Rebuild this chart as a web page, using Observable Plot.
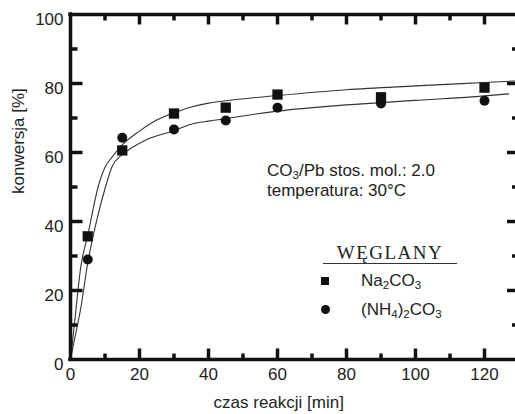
<!DOCTYPE html>
<html>
<head>
<meta charset="utf-8">
<script src="https://cdn.jsdelivr.net/npm/d3@7"></script>
<script src="https://cdn.jsdelivr.net/npm/@observablehq/plot@0.6"></script>
<style>
  html, body { margin: 0; padding: 0; background: #fff; overflow: hidden; }
  #wrap { position: relative; width: 515px; height: 414px; overflow: hidden; font-family: "Liberation Sans", Arial, sans-serif; color: #222; }
  #chart { position: absolute; left: 0; top: 0; width: 522px; }
  #chart svg { max-width: none !important; }
  .note { position: absolute; left: 267px; font-size: 17px; line-height: 17px; white-space: nowrap; }
  .legend { position: absolute; left: 318px; top: 243px; }
  .lg-title { position: absolute; left: 5px; top: 0; width: 134px; font-family: "Liberation Serif", "Times New Roman", serif; font-size: 19px; letter-spacing: 1.5px; text-align: center; line-height: 20px; }
  .lg-rule { position: absolute; left: 5px; top: 20px; width: 134px; height: 0; border-top: 1.2px solid #333; }
  .lg-item { position: absolute; left: 0; font-size: 17px; line-height: 18px; white-space: nowrap; }
  .lg-item .sw { position: absolute; left: 3px; top: 5px; width: 8px; height: 8px; background: #111; }
  .lg-item .sw.c { border-radius: 50%; width: 9px; height: 9px; top: 4px; }
  .lg-item .tx { position: absolute; left: 43px; top: 0; }
  sub { font-size: 0.68em; vertical-align: -0.25em; line-height: 0; }
</style>
</head>
<body>
<div id="wrap">
  <div id="chart"></div>
  <div class="note" style="top:162px">CO<sub>3</sub>/Pb stos. mol.: 2.0</div>
  <div class="note" style="top:182px">temperatura: 30°C</div>
  <div class="legend">
    <div class="lg-title">WĘGLANY</div>
    <div class="lg-rule"></div>
    <div class="lg-item" style="top:29px"><span class="sw"></span><span class="tx">Na<sub>2</sub>CO<sub>3</sub></span></div>
    <div class="lg-item" style="top:58px"><span class="sw c"></span><span class="tx">(NH<sub>4</sub>)<sub>2</sub>CO<sub>3</sub></span></div>
  </div>
</div>
<script>
// measured points
const times = [5, 15, 30, 45, 60, 90, 120];
const na2co3 = [35.7, 60.6, 71.3, 73.0, 76.8, 76.0, 78.8];
const nh4co3 = [29.0, 64.3, 66.7, 69.3, 73.0, 74.2, 75.0];

// fitted curves
const fitTimesNa = [0, 1, 3, 5, 8, 10, 12, 15, 20, 25, 30, 35, 40, 45, 60, 80, 100, 120, 130];
const fitNa = [0, 9, 27, 36, 50, 55.7, 58.6, 62.2, 66.2, 69.4, 71.5, 73.2, 74.3, 75.0, 76.5, 78.2, 79.3, 80.3, 80.8];
const fitTimesNH = [0, 1, 3, 5, 8, 10, 12, 15, 18, 22, 30, 35, 40, 45, 50, 60, 80, 100, 120, 127];
const fitNH = [0, 5, 15, 28, 42, 49.5, 55.8, 59.4, 61.5, 63.7, 66.3, 68.2, 69.1, 69.8, 70.6, 72.0, 73.8, 75.1, 76.4, 77.0];

const xLabel = "czas reakcji [min]";
const yLabel = "konwersja [%]";
const xTickLabels = [0, 20, 40, 60, 80, 100, 120];
const yTickLabels = [0, 20, 40, 60, 80, 100];
const xMajor = [20, 40, 60, 80, 100, 120];
const xMinor = [10, 30, 50, 70, 90, 110];
const yMajor = [20, 40, 60, 80];
const yMinor = [10, 30, 50, 70, 90];
const xDomain = [0, 130];
const yDomain = [0, 100];

const pts = (xs, ys) => xs.map((x, i) => ({x, y: ys[i]}));
const naPts = pts(times, na2co3);
const nhPts = pts(times, nh4co3);
const naFit = pts(fitTimesNa, fitNa);
const nhFit = pts(fitTimesNH, fitNH);

const W = 522, H = 414, ML = 70, MR = 3.5, MT = 14, MB = 55;
const FW = W - ML - MR, FH = H - MT - MB;
// pixel length -> data units (for inward tick marks)
const kx = (xDomain[1] - xDomain[0]) / FW;
const ky = (yDomain[1] - yDomain[0]) / FH;
const ink = "#111";
const hTicks = (vals, x0, lenPx) => Plot.link(vals, {x1: () => x0, x2: () => x0 + lenPx * kx, y1: d => d, y2: d => d, stroke: ink, strokeWidth: 3.5});
const vTicks = (vals, y0, lenPx) => Plot.link(vals, {y1: () => y0, y2: () => y0 + lenPx * ky, x1: d => d, x2: d => d, stroke: ink, strokeWidth: 3.5});

const chart = Plot.plot({
  width: W,
  height: H,
  marginLeft: ML,
  marginRight: MR,
  marginTop: MT,
  marginBottom: MB,
  style: {fontFamily: "Liberation Sans, Arial, sans-serif", fontSize: "17px", color: "#222", background: "transparent"},
  x: {domain: xDomain},
  y: {domain: yDomain},
  marks: [
    // tick labels
    Plot.axisY({ticks: yTickLabels, tickSize: 0, tickPadding: 7, label: null, fontSize: 17, dy: 5}),
    Plot.axisX({ticks: xTickLabels, tickSize: 0, tickPadding: 8, label: null, fontSize: 17}),
    // fitted curves
    Plot.line(naFit, {x: "x", y: "y", stroke: "#333", strokeWidth: 1.1, curve: "monotone-x"}),
    Plot.line(nhFit, {x: "x", y: "y", stroke: "#333", strokeWidth: 1.1, curve: "monotone-x"}),
    // measured points
    Plot.dot(naPts, {x: "x", y: "y", symbol: "square", r: 5.8, fill: "#111", stroke: "none"}),
    Plot.dot(nhPts, {x: "x", y: "y", symbol: "circle", r: 5, fill: "#111", stroke: "none"}),
    // frame
    Plot.ruleX(xDomain, {stroke: "#111", strokeWidth: 3.5, strokeLinecap: "square"}),
    Plot.ruleY(yDomain, {stroke: "#111", strokeWidth: 3.5, strokeLinecap: "square"}),
    // inward ticks: left, right, bottom, top
    hTicks(yMajor, xDomain[0], 12),
    hTicks(yMinor, xDomain[0], 7),
    hTicks(yMajor, xDomain[1], -12),
    hTicks(yMinor, xDomain[1], -7),
    vTicks(xMajor, yDomain[0], 11),
    vTicks(xMinor, yDomain[0], 6),
    vTicks(xMajor, yDomain[1], -10),
    vTicks(xMinor, yDomain[1], -6),
    // axis titles
    Plot.text([xLabel], {text: d => d, frameAnchor: "bottom", dy: 48, dx: -16, fontSize: 17, fill: "#222"}),
    Plot.text([yLabel], {text: d => d, frameAnchor: "left", dx: -52, dy: 7, rotate: -90, fontSize: 17, fill: "#222"})
  ]
});
document.getElementById("chart").appendChild(chart);
</script>
</body>
</html>
